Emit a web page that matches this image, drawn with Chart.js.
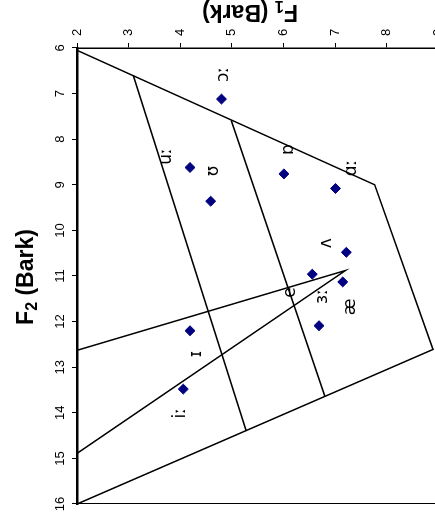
<!DOCTYPE html>
<html>
<head>
<meta charset="utf-8">
<script src="https://cdn.jsdelivr.net/npm/chart.js@4/dist/chart.umd.min.js"></script>
<style>
  html, body { margin: 0; padding: 0; background: #fff; }
  body { width: 435px; height: 517px; overflow: hidden; position: relative; }
  /* chart is laid out F2-across / F1-down, then turned on its side */
  #vowels { position: absolute; left: 0; top: 0; transform-origin: 0 0; transform: translateY(517px) rotate(-90deg); }
</style>
</head>
<body>
<canvas id="vowels" width="517" height="453"></canvas>
<script>
const vowels = ['iː', 'ɪ', 'e', 'æ', 'ʌ', 'ɑː', 'ɒ', 'ɔː', 'ʊ', 'uː', 'ɜː'];
const vowelF1 = [4.06, 4.19, 6.56, 7.15, 7.22, 7.01, 6.01, 4.80, 4.59, 4.19, 6.69];
const vowelF2 = [13.48, 12.20, 10.96, 11.13, 10.48, 9.08, 8.76, 7.12, 9.36, 8.62, 12.09];
// where each symbol is written
const labelF1 = [4.01, 4.32, 6.14, 7.31, 6.84, 7.33, 6.10, 4.85, 4.64, 3.74, 6.75];
const labelF2 = [14.01, 12.71, 11.36, 11.68, 10.28, 8.63, 8.23, 6.58, 8.70, 8.38, 11.45];

// vowel space outline
const outlineF1 = [2, 7.77, 8.90, 2];
const outlineF2 = [6.05, 9.00, 12.61, 16];
// height divisions (close / mid / open)
const divAF1 = [3.09, 5.28];
const divAF2 = [6.60, 14.40];
const divBF1 = [4.99, 6.80];
const divBF2 = [7.59, 13.63];
// front wedge
const wedgeF1 = [2, 7.20, 2];
const wedgeF2 = [12.63, 10.88, 14.89];

const F1_MIN = 2, F1_MAX = 9;
const F2_MIN = 6, F2_MAX = 16;

function pts(f1, f2) {
  return f1.map((v, i) => ({ x: f2[i], y: v }));
}

function lineSet(f1, f2) {
  return {
    data: pts(f1, f2),
    showLine: true,
    borderColor: '#000',
    borderWidth: 1.5,
    pointRadius: 0,
    fill: false,
    tension: 0
  };
}

const tickFont = { family: "'Liberation Sans', Arial, sans-serif", size: 13 };

const extras = {
  id: 'extras',
  beforeDatasetsDraw(chart) {
    // plot frame on the F2 = 16 side
    const { ctx, chartArea: a } = chart;
    ctx.save();
    ctx.strokeStyle = '#000';
    ctx.lineWidth = 1;
    ctx.beginPath();
    ctx.moveTo(a.left + 0.5, a.top);
    ctx.lineTo(a.left + 0.5, a.bottom);
    ctx.stroke();
    ctx.restore();
  },
  afterDatasetsDraw(chart) {
    const { ctx } = chart;
    const sx = chart.scales.x, sy = chart.scales.y;
    ctx.save();
    ctx.fillStyle = '#000';
    ctx.font = "17px 'DejaVu Sans', sans-serif";
    ctx.textAlign = 'center';
    ctx.textBaseline = 'middle';
    vowels.forEach((v, i) => {
      ctx.fillText(v, sx.getPixelForValue(labelF2[i]), sy.getPixelForValue(labelF1[i]));
    });
    ctx.restore();
  },
  afterDraw(chart) {
    const { ctx } = chart;
    const big = "bold 23px 'Liberation Sans', Arial, sans-serif";
    const small = "bold 16px 'Liberation Sans', Arial, sans-serif";
    // F with a subscript number, then the unit
    function title(num) {
      ctx.font = big;
      const w1 = ctx.measureText('F').width;
      const w3 = ctx.measureText(' (Bark)').width;
      ctx.font = small;
      const w2 = ctx.measureText(num).width;
      let x = -(w1 + w2 + w3) / 2;
      ctx.textAlign = 'left';
      ctx.textBaseline = 'alphabetic';
      ctx.font = big;
      ctx.fillText('F', x, 0);
      x += w1;
      ctx.font = small;
      ctx.fillText(num, x, 4);
      x += w2;
      ctx.font = big;
      ctx.fillText(' (Bark)', x, 0);
    }
    ctx.save();
    ctx.fillStyle = '#000';
    ctx.translate(240, 33);
    title('2');
    ctx.restore();

    ctx.save();
    ctx.fillStyle = '#000';
    ctx.translate(512, 250);
    ctx.rotate(-Math.PI / 2);
    title('1');
    ctx.restore();
  }
};

new Chart(document.getElementById('vowels'), {
  type: 'scatter',
  data: {
    datasets: [
      lineSet(outlineF1, outlineF2),
      lineSet(divAF1, divAF2),
      lineSet(divBF1, divBF2),
      lineSet(wedgeF1, wedgeF2),
      {
        data: pts(vowelF1, vowelF2),
        pointStyle: 'rectRot',
        pointRadius: 5,
        pointHoverRadius: 5,
        backgroundColor: '#000080',
        borderColor: '#000080',
        borderWidth: 1
      }
    ]
  },
  plugins: [extras],
  options: {
    responsive: false,
    animation: false,
    devicePixelRatio: 1,
    layout: { padding: { left: 13, right: 0, top: 0, bottom: 0 } },
    plugins: { legend: { display: false }, tooltip: { enabled: false } },
    scales: {
      x: {
        type: 'linear',
        position: 'top',
        reverse: true,
        min: F2_MIN,
        max: F2_MAX,
        ticks: { stepSize: 1, color: '#000', font: tickFont, padding: 4, maxRotation: 0, autoSkip: false },
        grid: { drawOnChartArea: false, tickLength: 5, color: '#000', lineWidth: 1 },
        border: { color: '#000', width: 2.5 },
        afterFit(s) { s.height = 77; }
      },
      y: {
        type: 'linear',
        position: 'right',
        reverse: true,
        min: F1_MIN,
        max: F1_MAX,
        ticks: { stepSize: 1, color: '#000', font: tickFont, padding: 7, autoSkip: false },
        grid: { drawOnChartArea: false, tickLength: 5, color: '#000', lineWidth: 1 },
        border: { color: '#000', width: 1.5 },
        afterFit(s) { s.width = 48; }
      }
    }
  }
});
</script>
</body>
</html>
